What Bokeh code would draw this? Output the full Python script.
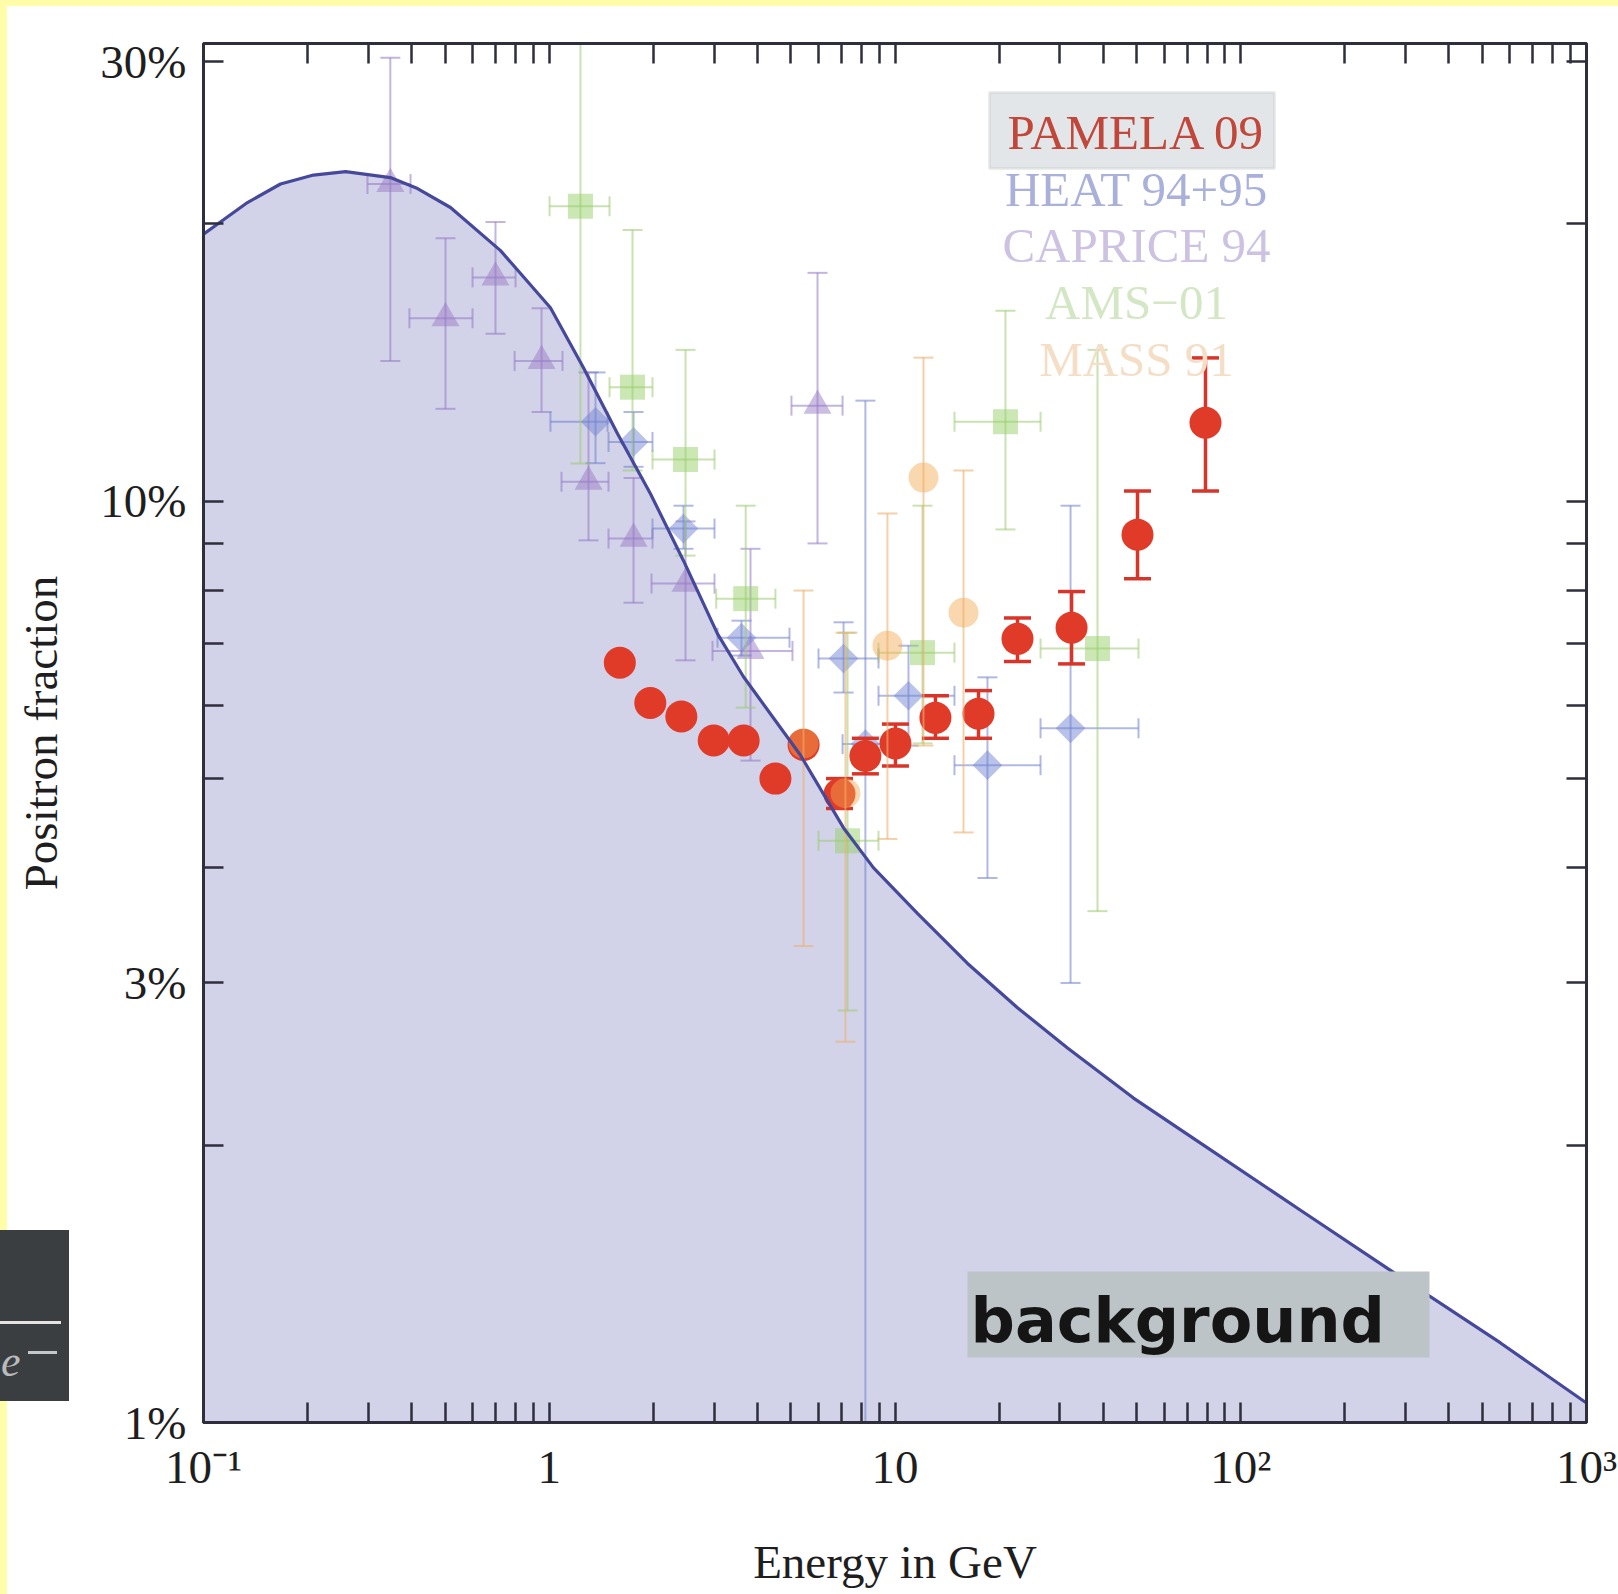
import math
from bokeh.plotting import figure
from bokeh.models import FixedTicker, LogAxis, Label, BoxAnnotation, Range1d, Spacer, Div
from bokeh.layouts import column, row
from bokeh.embed import file_html
from bokeh.resources import INLINE

# ---------------- data ----------------
# secondary-production background curve (energy in GeV, positron fraction in %)
bg_energy = [0.1, 0.114, 0.134, 0.167, 0.208, 0.2576, 0.347, 0.416, 0.518, 0.723, 1.008,
             1.256, 1.576, 1.962, 2.445, 3.067, 3.646, 5.33, 7.10, 8.67, 11.61, 16.21,
             22.61, 31.55, 48.96, 76.5, 148.9, 265.7, 564.0, 1000.0]
bg_fraction = [19.5, 20.2, 21.1, 22.1, 22.6, 22.8, 22.46, 21.85, 20.84, 18.71, 16.22,
               13.96, 11.84, 10.19, 8.62, 7.18, 6.45, 5.30, 4.42, 4.00, 3.57, 3.15,
               2.82, 2.55, 2.25, 2.01, 1.70, 1.47, 1.22, 1.05]

# PAMELA 09
pamela_energy = [1.60, 1.96, 2.41, 2.99, 3.65, 4.51, 5.44, 6.91, 8.21, 10.03, 13.09, 17.44,
                 22.61, 32.41, 50.28, 79.07]
pamela_frac = [6.68, 6.04, 5.84, 5.50, 5.50, 5.00, 5.44, 4.81, 5.29, 5.46, 5.82, 5.88,
               7.09, 7.29, 9.20, 12.17]
pamela_lo = [6.60, 5.97, 5.77, 5.44, 5.44, 4.94, 5.38, 4.64, 5.06, 5.16, 5.53, 5.53,
             6.70, 6.66, 8.24, 10.26]
pamela_hi = [6.76, 6.11, 5.91, 5.56, 5.56, 5.06, 5.50, 5.00, 5.53, 5.73, 6.15, 6.23,
             7.47, 7.98, 10.26, 14.31]

# HEAT 94+95
heat_energy = [1.361, 1.753, 2.445, 3.597, 7.099, 10.94, 18.51, 32.19, 8.21]
heat_e_lo = [1.008, 1.484, 1.989, 3.067, 6.009, 8.96, 14.86, 26.36, 7.052]
heat_e_hi = [1.474, 1.989, 3.006, 4.953, 8.96, 14.86, 26.36, 50.62, 9.71]
heat_frac = [12.2, 11.6, 9.34, 7.11, 6.75, 6.15, 5.17, 5.67, 5.45]
heat_lo = [11.0, 10.9, 8.88, 6.80, 6.20, 5.43, 3.90, 3.00, 0.5]
heat_hi = [13.8, 12.5, 9.89, 7.42, 7.39, 6.97, 6.44, 9.89, 12.86]

# CAPRICE 94
caprice_energy = [0.347, 0.501, 0.699, 0.950, 1.299, 1.753, 2.478, 3.820, 5.969]
caprice_e_lo = [0.298, 0.394, 0.600, 0.794, 1.085, 1.484, 1.976, 2.966, 5.018]
caprice_e_hi = [0.397, 0.600, 0.799, 1.092, 1.484, 1.989, 3.006, 5.052, 7.052]
caprice_frac = [22.1, 15.8, 17.5, 14.2, 10.5, 9.11, 8.14, 6.88, 12.7]
caprice_lo = [14.2, 12.6, 15.2, 12.5, 9.07, 7.76, 6.72, 5.23, 9.00]
caprice_hi = [30.3, 19.3, 20.1, 16.2, 13.8, 10.6, 9.51, 8.88, 17.7]

# AMS-01
ams_energy = [1.231, 1.741, 2.478, 3.70, 7.29, 12.01, 20.87, 38.52]
ams_e_lo = [1.002, 1.494, 1.989, 3.04, 6.009, 8.96, 14.86, 26.36]
ams_e_hi = [1.494, 1.989, 3.006, 4.51, 8.96, 14.86, 26.36, 50.62]
ams_frac = [20.9, 13.3, 11.1, 7.84, 4.28, 6.85, 12.2, 6.92]
ams_lo = [10.99, 10.8, 8.73, 5.97, 2.80, 5.46, 9.32, 3.59]
ams_hi = [40.0, 19.7, 14.6, 9.89, 7.20, 9.89, 16.1, 14.6]

# MASS 91
mass_energy = [5.438, 7.19, 9.51, 12.09, 15.78]
mass_frac = [5.46, 4.82, 6.97, 10.61, 7.57]
mass_lo = [3.29, 2.59, 4.30, 5.43, 4.37]
mass_hi = [8.00, 7.20, 9.70, 14.32, 10.80]

legend_names = ["PAMELA 09", "HEAT 94+95", "CAPRICE 94", "AMS\u221201", "MASS 91"]

x_ticks = [0.1, 1, 10, 100, 1000]
x_tick_labels = ["10\u207b\u00b9", "1", "10", "10\u00b2", "10\u00b3"]
y_ticks = [1, 3, 10, 30]
y_tick_labels = ["1%", "3%", "10%", "30%"]

# ---------------- layout constants (page pixels) ----------------
W, H = 1618, 1594
STRIP_L, STRIP_T = 7, 6          # yellow page strips (left, top)
FRAME_L, FRAME_R, FRAME_T, FRAME_B = 203, 1586, 43, 1422
X_LO, X_HI, Y_LO, Y_HI = 0.1, 1000.0, 1.0, 31.4
AX = "#2E2E3C"
SERIF = "Liberation Serif"
YELLOW = "#FFFDA8"
LABEL_SHIFT = 18   # Label baseline correction (px)


def at_x(px):
    f = (px - FRAME_L) / (FRAME_R - FRAME_L)
    return 10 ** (math.log10(X_LO) + f * (math.log10(X_HI) - math.log10(X_LO)))


def at_y(py):
    f = (FRAME_B - py) / (FRAME_B - FRAME_T)
    return 10 ** (math.log10(Y_LO) + f * (math.log10(Y_HI) - math.log10(Y_LO)))


FW, FH = W - STRIP_L, H - STRIP_T
p = figure(width=FW, height=FH, x_axis_type="log", y_axis_type="log",
           x_range=Range1d(X_LO, X_HI), y_range=Range1d(Y_LO, Y_HI),
           output_backend="svg", toolbar_location=None,
           min_border_left=FRAME_L - STRIP_L, min_border_right=W - FRAME_R,
           min_border_top=FRAME_T - STRIP_T, min_border_bottom=H - FRAME_B)
p.background_fill_color = "white"
p.border_fill_color = "white"
p.outline_line_color = AX
p.outline_line_width = 3
p.grid.visible = False

x_minor = [m * 10.0 ** e for e in range(-1, 3) for m in range(2, 10)]
y_minor = [2, 4, 5, 6, 7, 8, 9, 20]


def style_axis(ax, ticks, minor, labels, show):
    ax.ticker = FixedTicker(ticks=ticks, minor_ticks=minor)
    if show:
        ax.major_label_overrides = dict(zip(ticks, labels))
    else:
        ax.major_label_overrides = {t: "" for t in ticks}
        ax.major_label_text_font_size = "1px"
        ax.major_label_standoff = 0
    ax.axis_line_color = AX
    ax.axis_line_width = 3
    ax.major_tick_line_color = AX
    ax.minor_tick_line_color = AX
    ax.major_tick_line_width = 2.5
    ax.minor_tick_line_width = 2.5
    ax.major_tick_in = 20
    ax.major_tick_out = 0
    ax.minor_tick_in = 20
    ax.minor_tick_out = 0


xb = p.xaxis[0]
yl = p.yaxis[0]
style_axis(xb, x_ticks, x_minor, x_tick_labels, True)
style_axis(yl, y_ticks, y_minor, y_tick_labels, True)
for ax in (xb, yl):
    ax.major_label_text_font = SERIF
    ax.major_label_text_font_size = "47px"
    ax.major_label_text_color = "#1E1E1E"
    ax.axis_label_text_font = SERIF
    ax.axis_label_text_font_size = "47px"
    ax.axis_label_text_font_style = "normal"
    ax.axis_label_text_color = "#1E1E1E"
xb.major_label_standoff = 18
xb.axis_label = "Energy in GeV"
xb.axis_label_standoff = 40
yl.major_label_standoff = 17
yl.axis_label = "Positron fraction"
yl.axis_label_standoff = 30

top_ax = LogAxis()
style_axis(top_ax, x_ticks, x_minor, x_tick_labels, False)
p.add_layout(top_ax, "above")
right_ax = LogAxis()
style_axis(right_ax, y_ticks, y_minor, y_tick_labels, False)
p.add_layout(right_ax, "right")

# ---------------- background fill ----------------
p.varea(x=bg_energy, y1=[Y_LO] * len(bg_energy), y2=bg_fraction,
        fill_color="#D2D2E9", fill_alpha=1.0)


def errbars(ex, ey, ylo, yhi, color, alpha, lw, cap, exlo=None, exhi=None):
    p.segment(x0=ex, y0=ylo, x1=ex, y1=yhi, line_color=color, line_alpha=alpha, line_width=lw)
    p.scatter(x=ex + ex, y=ylo + yhi, marker="dash", size=cap, line_color=color,
              line_alpha=alpha, line_width=lw)
    if exlo is not None:
        p.segment(x0=exlo, y0=ey, x1=exhi, y1=ey, line_color=color, line_alpha=alpha, line_width=lw)
        p.scatter(x=exlo + exhi, y=ey + ey, marker="dash", angle=math.pi / 2, size=cap,
                  line_color=color, line_alpha=alpha, line_width=lw)


# faded older data sets
errbars(caprice_energy, caprice_frac, caprice_lo, caprice_hi, "#9478C4", 0.55, 2, 20,
        caprice_e_lo, caprice_e_hi)
p.scatter(x=caprice_energy, y=caprice_frac, marker="triangle", size=28,
          fill_color="#9A7CC6", fill_alpha=0.5, line_color=None)
errbars(heat_energy, heat_frac, heat_lo, heat_hi, "#6F80CE", 0.55, 2, 20,
        heat_e_lo, heat_e_hi)
p.scatter(x=heat_energy, y=heat_frac, marker="square", angle=math.pi / 4, size=21,
          fill_color="#7386D2", fill_alpha=0.5, line_color=None)
errbars(ams_energy, ams_frac, ams_lo, ams_hi, "#9ACB70", 0.55, 2, 20,
        ams_e_lo, ams_e_hi)
p.scatter(x=ams_energy, y=ams_frac, marker="square", size=25,
          fill_color="#98D06A", fill_alpha=0.5, line_color=None)

# PAMELA
errbars(pamela_energy, pamela_frac, pamela_lo, pamela_hi, "#D8352A", 1.0, 3.5, 27)
p.scatter(x=pamela_energy, y=pamela_frac, marker="circle", size=32,
          fill_color="#E03A28", line_color=None)

# MASS on top (faded)
errbars(mass_energy, mass_frac, mass_lo, mass_hi, "#EDB070", 0.6, 2, 20)
p.scatter(x=mass_energy, y=mass_frac, marker="circle", size=30,
          fill_color="#F2A850", fill_alpha=0.45, line_color=None)

# background curve line
p.line(x=bg_energy, y=bg_fraction, line_color="#46489A", line_width=3.2)

# ---------------- legend ----------------
p.add_layout(BoxAnnotation(left=at_x(989), right=at_x(1274), top=at_y(92), bottom=at_y(168),
                           fill_color="#E2E6E9", fill_alpha=1.0, line_color="#BFC3C5",
                           line_width=3))
legend_colors = ["#C0473A", "#A9B0DA", "#CEC2E2", "#D3E7C4", "#F5DEC6"]
legend_base = [150, 207, 263, 320, 377]
for name, col, by in zip(legend_names, legend_colors, legend_base):
    p.add_layout(Label(x=at_x(1136), y=at_y(by - LABEL_SHIFT), text=name, text_align="center",
                       text_baseline="alphabetic", text_font=SERIF,
                       text_font_size="49px", text_color=col))

# "background" tag
p.add_layout(BoxAnnotation(left=at_x(967), right=at_x(1429), top=at_y(1271), bottom=at_y(1357),
                           fill_color="#BCC4C7", fill_alpha=1.0, line_color=None))
p.add_layout(Label(x=at_x(970), y=at_y(1338 - LABEL_SHIFT), text="background", text_align="left",
                   text_baseline="alphabetic", text_font="DejaVu Sans",
                   text_font_style="bold", text_font_size="62px", text_color="#151515"))

# ---------------- page decorations: yellow strips + cut-off dark inset ----------------
inset_html = (
    '<div style="position:absolute;left:0px;top:1230px;width:69px;height:171px;'
    'background:#3B3E41;z-index:20;overflow:hidden;">'
    '<div style="position:absolute;left:0px;top:91px;width:61px;height:3px;background:#E4E4E4;"></div>'
    '<span style="position:absolute;left:1px;top:110px;font-family:\'Liberation Serif\';'
    'font-style:italic;font-size:44px;line-height:44px;color:#B8BCBF;">e</span>'
    '<div style="position:absolute;left:28px;top:121px;width:29px;height:3px;background:#C4C8CA;"></div>'
    '</div>'
)
top_strip = Div(text=inset_html, width=W, height=STRIP_T, margin=0,
                styles={"background-color": YELLOW, "overflow": "visible"})
left_strip = Spacer(width=STRIP_L, height=FH, margin=0, styles={"background-color": YELLOW})
page = column(top_strip, row(left_strip, p, spacing=0), spacing=0)

open("out.html", "w").write(file_html(page, INLINE))
